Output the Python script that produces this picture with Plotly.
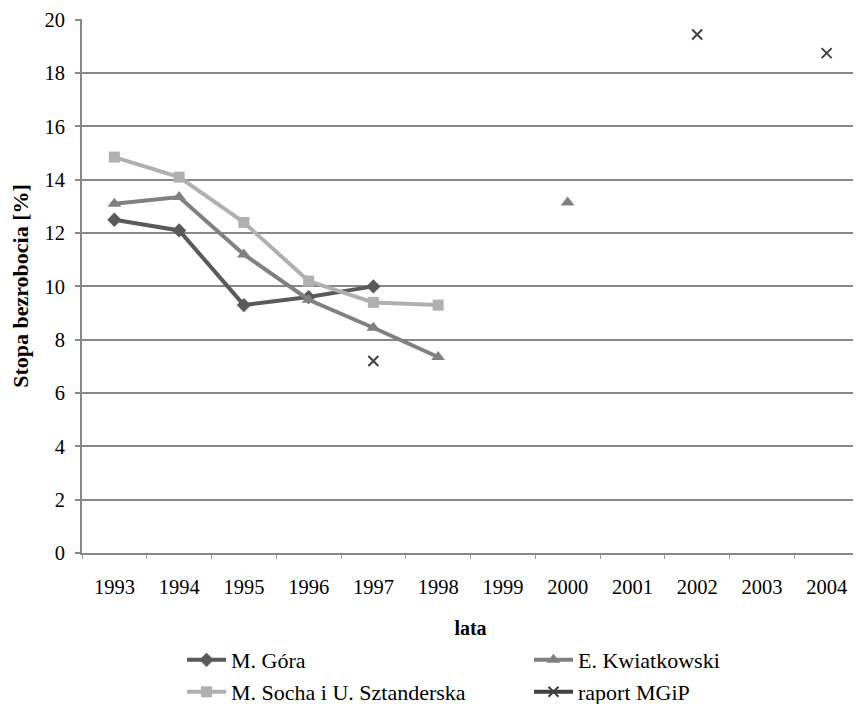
import plotly.graph_objects as go

years = ["1993", "1994", "1995", "1996", "1997", "1998", "1999", "2000", "2001", "2002", "2003", "2004"]
gora = [12.5, 12.1, 9.3, 9.6, 10.0, None, None, None, None, None, None, None]
kwiatkowski = [13.1, 13.35, 11.2, 9.5, 8.45, 7.35, None, 13.15, None, None, None, None]
socha = [14.85, 14.1, 12.4, 10.2, 9.4, 9.3, None, None, None, None, None, None]
mgip = [None, None, None, None, 7.2, None, None, None, None, 19.45, None, 18.75]

FONT = "Liberation Serif"

fig = go.Figure()
fig.add_trace(go.Scatter(x=years, y=gora, name="M. Góra", mode="lines+markers",
                         connectgaps=False, legend="legend",
                         line=dict(color="#5a5a5a", width=4),
                         marker=dict(symbol="diamond", size=11, color="#5a5a5a")))
fig.add_trace(go.Scatter(x=years, y=kwiatkowski, name="E. Kwiatkowski", mode="lines+markers",
                         connectgaps=False, legend="legend",
                         line=dict(color="#808080", width=4),
                         marker=dict(symbol="triangle-up", size=12, color="#808080")))
fig.add_trace(go.Scatter(x=years, y=socha, name="M. Socha i U. Sztanderska", mode="lines+markers",
                         connectgaps=False, legend="legend2",
                         line=dict(color="#b0b0b0", width=4),
                         marker=dict(symbol="square", size=11, color="#b0b0b0")))
fig.add_trace(go.Scatter(x=years, y=mgip, name="raport MGiP", mode="lines+markers",
                         connectgaps=False, legend="legend2",
                         line=dict(color="#404040", width=4),
                         marker=dict(symbol="x-thin-open", size=10, color="#404040",
                                     line=dict(width=2, color="#404040"))))

legend_common = dict(orientation="h", xanchor="left", yanchor="top",
                     xref="container", yref="container",
                     entrywidth=293, entrywidthmode="pixels",
                     font=dict(family=FONT, size=22), itemwidth=39,
                     traceorder="normal", bgcolor="rgba(0,0,0,0)")

# page has an 8px body margin, so the figure is 853x696 to fill the 861x704 window
fig.update_layout(
    width=853, height=696,
    margin=dict(l=74, r=2, t=11, b=151, autoexpand=False),
    paper_bgcolor="white", plot_bgcolor="white",
    font=dict(family=FONT, size=20, color="black"),
    showlegend=True,
    legend=dict(x=0.204, y=0.0934, **legend_common),
    legend2=dict(x=0.204, y=0.0474, **legend_common),
)
fig.update_xaxes(type="category", categoryorder="array", categoryarray=years,
                 range=[-0.5, 11.5],
                 showgrid=False, showline=True, linecolor="#888888", linewidth=2,
                 ticks="outside", tickson="boundaries", ticklen=4, tickcolor="#999999", tickwidth=1,
                 ticklabelstandoff=14,
                 tickfont=dict(family=FONT, size=20.5), automargin=False,
                 ticklabeloverflow="allow",
                 title=dict(text="<b>lata</b>", font=dict(family=FONT, size=20), standoff=31))
fig.update_yaxes(range=[0, 20.03], tickvals=[0, 2, 4, 6, 8, 10, 12, 14, 16, 18, 20],
                 showgrid=True, gridcolor="#888888", gridwidth=2,
                 zeroline=False, showline=True, linecolor="#888888", linewidth=2,
                 ticks="outside", ticklen=5, tickcolor="#888888", tickwidth=2,
                 ticklabelstandoff=6, ticklabeloverflow="allow",
                 tickfont=dict(family=FONT, size=20.5), automargin=False,
                 title=dict(text="<b>Stopa bezrobocia [%]</b>", font=dict(family=FONT, size=22), standoff=22))

fig.write_html("out.html")
